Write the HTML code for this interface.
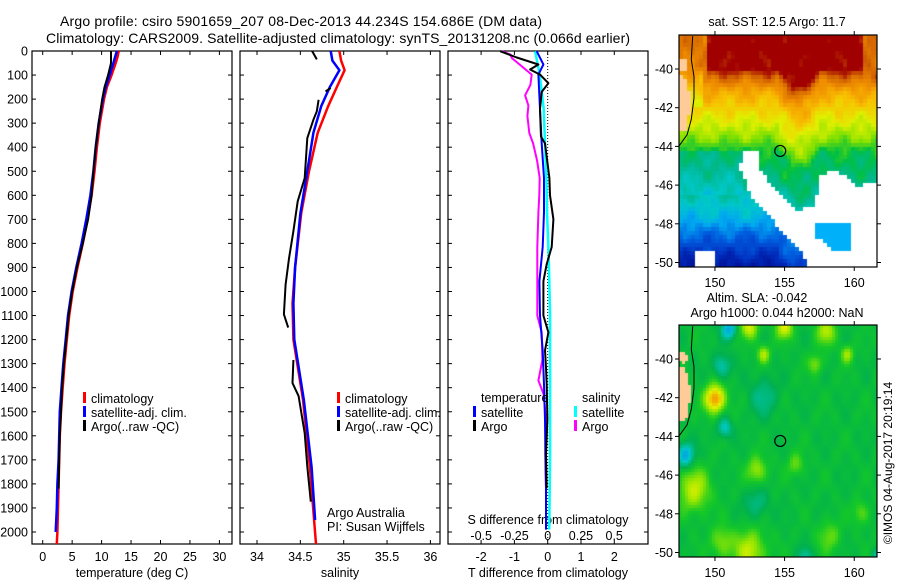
<!DOCTYPE html>
<html><head><meta charset="utf-8">
<style>
html,body{margin:0;padding:0;background:#fff;}
#wrap{position:relative;width:900px;height:580px;overflow:hidden;font-family:"Liberation Sans",sans-serif;}
svg text{font-family:"Liberation Sans",sans-serif;fill:#000;}
canvas{position:absolute;}
</style></head>
<body>
<div id="wrap">
<canvas id="sst" width="198" height="232" style="left:679px;top:35px;"></canvas>
<canvas id="sla" width="198" height="232" style="left:679px;top:325px;"></canvas>
<svg id="fig" width="900" height="580" style="position:absolute;left:0;top:0" xmlns="http://www.w3.org/2000/svg">
<text x="60" y="26" font-size="14" textLength="482">Argo profile: csiro 5901659_207 08-Dec-2013 44.234S 154.686E (DM data)</text>
<text x="46" y="43" font-size="14" textLength="584">Climatology: CARS2009. Satellite-adjusted climatology: synTS_20131208.nc (0.066d earlier)</text>
<text x="777" y="26" font-size="12.5" text-anchor="middle">sat. SST: 12.5 Argo: 11.7</text>
<text x="757" y="302" font-size="12.5" text-anchor="middle">Altim. SLA: -0.042</text>
<text x="777" y="317" font-size="12.5" text-anchor="middle">Argo h1000: 0.044 h2000: NaN</text>
<text x="0" y="0" font-size="12" text-anchor="middle" transform="translate(892,463) rotate(-90)">©IMOS 04-Aug-2017 20:19:14</text>
</svg>
</div>
<script>
// ---------- data: temperature panel ----------
const climTDepth = [0,25,50,100,150,200,300,400,500,600,700,800,900,1000,1100,1200,1300,1400,1500,1600,1700,1800,1900,2000,2050];
const climT = [12.9,12.7,12.4,11.7,10.9,10.4,9.7,9.2,8.8,8.3,7.6,6.8,5.9,5.1,4.5,4.1,3.7,3.4,3.1,2.9,2.8,2.7,2.6,2.5,2.4];
const satTDepth = [0,25,50,100,150,200,300,400,500,600,700,800,900,1000,1100,1200,1300,1400,1500,1600,1700,1800,1900,2000];
const satT = [12.6,12.3,12.0,11.4,10.7,10.2,9.5,9.0,8.6,8.1,7.4,6.6,5.7,4.9,4.3,3.9,3.5,3.2,2.9,2.8,2.7,2.5,2.4,2.2];
const argoTDepth = [0,50,80,100,150,200,300,400,500,600,700,800,900,1000,1100,1200,1300,1400,1500,1600,1700,1820];
const argoT = [11.6,11.6,11.3,11.1,10.5,10.1,9.5,9.0,8.6,8.3,7.7,6.8,5.8,5.0,4.4,4.0,3.6,3.3,3.1,2.9,2.8,2.7];
// ---------- data: salinity panel ----------
const climSDepth = [0,40,80,150,230,340,500,675,900,1050,1200,1450,1730,2050];
const climS = [34.95,34.97,35.01,34.92,34.82,34.70,34.60,34.51,34.44,34.41,34.42,34.53,34.61,34.68];
const satSDepth = [0,40,80,150,230,340,500,675,900,1050,1200,1450,1730,1950];
const satS = [34.85,34.87,34.95,34.84,34.74,34.65,34.58,34.50,34.44,34.42,34.43,34.54,34.63,34.67];
const argoSDepth = [0,35,null,154,168,null,203,251,286,362,528,625,749,860,971,1095,1150,null,1285,1381,1435,1589,1728,1874];
const argoS = [34.635,34.69,null,34.85,34.79,null,34.71,34.69,34.65,34.58,34.55,34.47,34.42,34.37,34.33,34.31,34.36,null,34.42,34.41,34.48,34.55,34.58,34.62];
// ---------- data: difference panel ----------
const dTsatDepth = [1,56,98,241,384,528,671,815,957,1100,1245,1388,1532,1675,1818,1990];
const dTsat = [-0.33,-0.13,-0.28,-0.23,-0.18,-0.11,-0.11,-0.15,-0.25,-0.23,-0.15,-0.11,-0.08,-0.07,-0.05,-0.05];
const dTargoDepth = [1,27,56,77,98,134,170,241,356,384,528,600,700,815,886,957,1100,1170,1245,1316,1388,1532,1675,1818];
const dTargo = [-1.43,-0.93,-0.28,-0.53,-0.23,0.02,-0.18,-0.23,-0.2,-0.08,0.05,0.07,0.17,0.12,-0.03,-0.13,-0.13,0.02,-0.08,-0.05,-0.03,-0.01,-0.05,-0.03];
const dSsatDepth = [1,98,241,384,528,671,815,957,1100,1388,1675,1990];
const dSsat = [-0.095,-0.06,-0.03,-0.02,-0.01,-0.005,0.005,0.012,0.018,0.018,0.018,0.012];
const dSargoDepth = [1,15,29,98,141,184,227,270,341,384,456,528,600,671,815,957,1100,1170,1285,1370,1428,1532,1675,1818];
const dSargo = [-0.345,-0.28,-0.27,-0.12,-0.13,-0.17,-0.145,-0.153,-0.138,-0.11,-0.08,-0.06,-0.063,-0.07,-0.078,-0.078,-0.078,-0.045,-0.04,-0.07,-0.03,-0.013,-0.018,-0.013];
// ---------- ticks ----------
const depthTicks = [0,100,200,300,400,500,600,700,800,900,1000,1100,1200,1300,1400,1500,1600,1700,1800,1900,2000];
const tempTicks = [0,5,10,15,20,25,30];
const salTicks = [34,34.5,35,35.5,36];
const dTTicks = [-2,-1,0,1,2];
const dSTicks = [-0.5,-0.25,0,0.25,0.5];
const dSTickLabels = ['-0.5','-0.25','0','0.25','0.5'];
const latTicks = [-40,-42,-44,-46,-48,-50];
const lonTicks = [150,155,160];
const argoLon = 154.686, argoLat = -44.234;

// ---------- scales ----------
const TOP=51, BOT=544;
function yD(d){return TOP + d*0.2405;}
function xT(t){return 42.7 + t*5.89;}
function xS(s){return 257 + (s-34)*86.7;}
function xDT(t){return 547.7 + t*33.3;}
function xDS(s){return 547.7 + s*133;}
function mapX(lon){return 679 + (lon-147.42)*13.93;}
function mapYtop(lat){return 69 - (lat+40)*19.35;}
function mapYbot(lat){return 359 - (lat+40)*19.35;}

const NS='http://www.w3.org/2000/svg';
const svg=document.getElementById('fig');
function mk(tag,attrs,parent){const e=document.createElementNS(NS,tag);for(const k in attrs)e.setAttribute(k,attrs[k]);(parent||svg).appendChild(e);return e;}

function panel(name,x0,x1){
  const r=mk('rect',{x:x0,y:TOP,width:x1-x0,height:BOT-TOP,fill:'none',stroke:'#000','stroke-width':1.2});
  
  
  for(const d of depthTicks){
    const y=yD(d);
    const t1=mk('line',{x1:x0,x2:x0+4,y1:y,y2:y,stroke:'#000'});
    
    
    const t2=mk('line',{x1:x1-4,x2:x1,y1:y,y2:y,stroke:'#000'});
    
    
  }
}
function xtick(x,label,y,name){
  const a=mk('line',{x1:x,x2:x,y1:BOT,y2:BOT-4,stroke:'#000'});
  
  
  const b=mk('line',{x1:x,x2:x,y1:TOP,y2:TOP+4,stroke:'#000'});
  
  
  if(label!==null){
    const t=mk('text',{x:x,y:y,'font-size':12.5,'text-anchor':'middle'});
    t.textContent=label;
    
    
  }
}
function line(depths,vals,xf,color,w,name){
  let segs=[],cur=[];
  for(let i=0;i<depths.length;i++){
    if(depths[i]===null||vals[i]===null){if(cur.length)segs.push(cur);cur=[];continue;}
    cur.push(xf(vals[i]).toFixed(1)+','+yD(depths[i]).toFixed(1));
  }
  if(cur.length)segs.push(cur);
  for(const s of segs){
    const p=mk('polyline',{points:s.join(' '),fill:'none',stroke:color,'stroke-width':w,'stroke-linejoin':'round'});
    
    
  }
}
function txt(x,y,s,name,anchor,size){
  const t=mk('text',{x:x,y:y,'font-size':size||12.5,'text-anchor':anchor||'start'});
  t.textContent=s;
  
  
  return t;
}
function legbar(x,y,color,name){
  const r=mk('rect',{x:x,y:y-6,width:3,height:11,fill:color});
  
  
}

// Panel 1
panel('temperature-panel',32,232);
for(const d of depthTicks){txt(28,yD(d)+4.5,String(d),'depth-tick-label','end');}
for(const t of tempTicks){xtick(xT(t),String(t),561,'temperature-axis');}
txt(132,577,'temperature (deg C)','temperature-axis-title','middle');
line(climTDepth,climT,xT,'#ff0000',2.5,'temperature-climatology-line');
line(satTDepth,satT,xT,'#0000ff',2.5,'temperature-satellite-line');
line(argoTDepth,argoT,xT,'#000000',2,'temperature-argo-line');
legbar(83,398,'#ff0000','legend-climatology-swatch');txt(91,403,'climatology','legend-climatology');
legbar(83,412,'#0000ff','legend-satellite-swatch');txt(91,417,'satellite-adj. clim.','legend-satellite');
legbar(83,426,'#000000','legend-argo-swatch');txt(91,431,'Argo(..raw -QC)','legend-argo');

// Panel 2
panel('salinity-panel',240,440);
for(const s of salTicks){xtick(xS(s),String(s),561,'salinity-axis');}
txt(340,577,'salinity','salinity-axis-title','middle');
line(climSDepth,climS,xS,'#ff0000',2.5,'salinity-climatology-line');
line(satSDepth,satS,xS,'#0000ff',2.5,'salinity-satellite-line');
line(argoSDepth,argoS,xS,'#000000',2,'salinity-argo-line');
legbar(337,398,'#ff0000','legend-climatology-swatch');txt(345,403,'climatology','legend-climatology');
legbar(337,412,'#0000ff','legend-satellite-swatch');txt(345,417,'satellite-adj. clim.','legend-satellite');
legbar(337,426,'#000000','legend-argo-swatch');txt(345,431,'Argo(..raw -QC)','legend-argo');
txt(327,517,'Argo Australia','argo-australia-label');
txt(327,531,'PI: Susan Wijffels','pi-label');

// Panel 3
panel('difference-panel',448,648);
const zl=mk('line',{x1:xDT(0),x2:xDT(0),y1:TOP,y2:BOT,stroke:'#000','stroke-dasharray':'1,2'});


for(const t of dTTicks){xtick(xDT(t),String(t),561,'t-difference-axis');}
for(let i=0;i<dSTicks.length;i++){txt(xDS(dSTicks[i]),540,dSTickLabels[i],'s-difference-tick-label','middle');}
txt(548,524,'S difference from climatology','s-difference-axis-title','middle');
txt(548,577,'T difference from climatology','t-difference-axis-title','middle');
line(dSargoDepth,dSargo,xDS,'#ff00ff',2,'salinity-argo-difference-line');
line(dSsatDepth,dSsat,xDS,'#00ffff',2.5,'salinity-satellite-difference-line');
line(dTsatDepth,dTsat,xDT,'#0000ff',2,'temperature-satellite-difference-line');
line(dTargoDepth,dTargo,xDT,'#000000',2,'temperature-argo-difference-line');
txt(481,402,'temperature','legend-temperature-heading');
legbar(473,412,'#0000ff','legend-t-satellite-swatch');txt(481,417,'satellite','legend-t-satellite');
legbar(473,426,'#000000','legend-t-argo-swatch');txt(481,431,'Argo','legend-t-argo');
txt(582,402,'salinity','legend-salinity-heading');
legbar(574,412,'#00ffff','legend-s-satellite-swatch');txt(582,417,'satellite','legend-s-satellite');
legbar(574,426,'#ff00ff','legend-s-argo-swatch');txt(582,431,'Argo','legend-s-argo');

// ---------- maps ----------
function lerpCol(stops,v){
  v=Math.max(0,Math.min(1,v));
  for(let i=1;i<stops.length;i++){
    if(v<=stops[i][0]){const a=stops[i-1],b=stops[i];const f=(v-a[0])/(b[0]-a[0]);
      return [0,1,2].map(k=>Math.round(a[1][k]+(b[1][k]-a[1][k])*f));}
  }
  return stops[stops.length-1][1];
}
const sstStops=[[0,[0,0,128]],[0.12,[0,48,192]],[0.2,[0,96,224]],[0.28,[0,168,240]],[0.35,[0,200,200]],[0.42,[0,184,140]],[0.48,[0,192,64]],[0.56,[128,224,0]],[0.64,[224,240,0]],[0.72,[248,192,0]],[0.8,[240,144,0]],[0.88,[208,96,0]],[0.94,[160,0,0]],[1,[160,0,0]]];
const slaStops=[[0,[0,120,255]],[0.25,[0,200,200]],[0.4,[0,176,80]],[0.5,[20,200,40]],[0.62,[150,230,0]],[0.72,[230,240,0]],[0.85,[245,150,0]],[1,[240,100,0]]];
const latProfile=[[-38.2,0.97],[-40,0.95],[-40.5,0.86],[-41.2,0.76],[-42,0.7],[-43,0.62],[-43.7,0.56],[-44.3,0.48],[-45.5,0.44],[-46.3,0.4],[-47,0.35],[-47.8,0.3],[-48.5,0.22],[-49.3,0.15],[-50.4,0.05]];
function prof(lat){
  for(let i=1;i<latProfile.length;i++){
    const a=latProfile[i-1],b=latProfile[i];
    if(lat<=a[0]&&lat>=b[0]){return a[1]+(b[1]-a[1])*(a[0]-lat)/(a[0]-b[0]);}
  }
  return lat>-38.2?0.97:0.05;
}
function inPoly(x,y,p){let c=false;for(let i=0,j=p.length-1;i<p.length;j=i++){if(((p[i][1]>y)!=(p[j][1]>y))&&(x<(p[j][0]-p[i][0])*(y-p[i][1])/(p[j][1]-p[i][1])+p[i][0]))c=!c;}return c;}
const whiteMask=[[152,-44.25],[153.1,-44.3],[153.3,-45.3],[154.5,-46.4],[156,-47.4],[157.3,-47],[157.4,-45.5],[158.6,-45.3],[159.5,-45.6],[160,-46.1],[161.9,-45.9],[161.9,-50.4],[156.5,-50.4],[156.5,-49.8],[155,-48.6],[153.8,-47.5],[152.5,-46.5],[152.1,-45.5],[151.5,-45.1],[152,-44.8]];
const cyanPatch=[[157.2,-47.9],[159.8,-47.9],[159.8,-49.5],[158.5,-49.5],[158,-49],[157.2,-48.8]];
const land=[[147.4,-40.4],[147.8,-40.4],[148.0,-40.9],[148.2,-41.4],[148.2,-42.2],[148.0,-43.0],[147.8,-43.3],[147.4,-43.2]];
const island=[[147.5,-39.6],[147.9,-39.6],[148.0,-40.1],[147.7,-40.3],[147.5,-40.1]];
function drawMap(id,fn,cell){
  const cv=document.getElementById(id),ctx=cv.getContext('2d');
  for(let py=0;py<cv.height;py+=cell){for(let px=0;px<cv.width;px+=cell){
    const lon=147.42+(px+cell/2)/13.93, lat=-38.28-(py+cell/2)/19.35;
    ctx.fillStyle=fn(lon,lat);ctx.fillRect(px,py,cell,cell);
  }}
}
drawMap('sst',function(lon,lat){
  if(inPoly(lon,lat,land)||inPoly(lon,lat,island))return '#ffcc99';
  if(lon>148.6&&lon<149.9&&lat<-49.5&&lat>-50.2)return '#ffffff';
  if(inPoly(lon,lat,cyanPatch))return 'rgb(0,176,248)';
  if(inPoly(lon,lat,whiteMask))return '#ffffff';
  let shift=0;
  if(lon>154.5&&lon<157.5)shift+=0.9*Math.sin((lon-154.5)/3*Math.PI);
  if(lon<149)shift+=(lat>-42?-0.8:0);
  let v=prof(lat+shift);
  if(lon<149.5&&lat>-40.6)v=Math.min(v,0.84);
  if(lon>160.5&&lat>-40.5)v=Math.min(v,0.86);
  if(lat<-44.3&&lat>-46.5&&lon<152)v-=0.04;
  v+=0.03*Math.sin(lon*2.3)*Math.cos(lat*3.1)+0.02*Math.sin(lon*5.7+1)*Math.sin(lat*4.9+2);
  const c=lerpCol(sstStops,v);return 'rgb('+c.join(',')+')';
},4);
const blobs=[[150,-42.1,0.42,0.7],[151,-38.5,-0.3,0.5],[150.5,-40.4,-0.18,0.6],[150.7,-43.6,-0.2,0.5],[147.9,-45.0,-0.3,0.6],[153.5,-42,-0.12,1.0],[153,-47.5,-0.12,0.8],[152.5,-38.4,0.25,0.6],[155,-38.4,0.25,0.6],[158,-38.6,0.2,0.7],[153.5,-39.8,0.2,0.45],[159.5,-39.8,0.18,0.45],[157.2,-40.3,0.15,0.5],[148.5,-46.8,0.22,1.1],[153,-45.8,0.18,0.7],[152.5,-50,0.22,1.1],[155.8,-45.5,0.12,0.6],[158.2,-49.2,0.12,0.8],[150.5,-49.5,0.15,0.8],[160.5,-48,0.12,0.6],[156.5,-50.3,-0.15,0.5],[161.6,-50.3,-0.15,0.4]];
drawMap('sla',function(lon,lat){
  if(inPoly(lon,lat,land)||inPoly(lon,lat,island))return '#ffcc99';
  let v=0.45+0.02*Math.sin(lon*2.1)*Math.cos(lat*1.7)+0.02*Math.sin(lon*4.3+1)*Math.sin(lat*3.1);
  for(const b of blobs){const dx=lon-b[0],dy=lat-b[1];v+=b[2]*Math.exp(-(dx*dx+dy*dy)/(b[3]*b[3]));}
  const c=lerpCol(slaStops,v);return 'rgb('+c.join(',')+')';
},3);

function mapFrame(name,top,yf){
  const r=mk('rect',{x:679,y:top,width:198,height:232,fill:'none',stroke:'#000','stroke-width':1.2});
  
  
  const coast=mk('polyline',{points:[[148.4,-38.3],[148.3,-39.5],[148.5,-40.4],[148.5,-41.5],[148.3,-42.6],[148.0,-43.4],[147.4,-44.0]].map(p=>mapX(p[0]).toFixed(1)+','+yf(p[1]).toFixed(1)).join(' '),fill:'none',stroke:'#000','stroke-width':1});
  
  
  for(const la of latTicks){
    const y=yf(la);
    const t=mk('line',{x1:675,x2:679,y1:y,y2:y,stroke:'#000'});
    
    
    const t2=mk('line',{x1:877,x2:881,y1:y,y2:y,stroke:'#000'});
    
    
    txt(673,y+4.5,String(la),'latitude-tick-label','end');
  }
  for(const lo of lonTicks){
    const x=mapX(lo);
    const t=mk('line',{x1:x,x2:x,y1:top,y2:top-4,stroke:'#000'});
    
    
    const t2=mk('line',{x1:x,x2:x,y1:top+232,y2:top+236,stroke:'#000'});
    
    
    txt(x,top+252,String(lo),'longitude-tick-label','middle');
  }
  const c=mk('circle',{cx:mapX(argoLon),cy:yf(argoLat),r:5.5,fill:'none',stroke:'#000','stroke-width':1.2});
  
  
}
mapFrame('sst-map-frame',35,mapYtop);
mapFrame('sla-map-frame',325,mapYbot);
</script>
</body></html>
